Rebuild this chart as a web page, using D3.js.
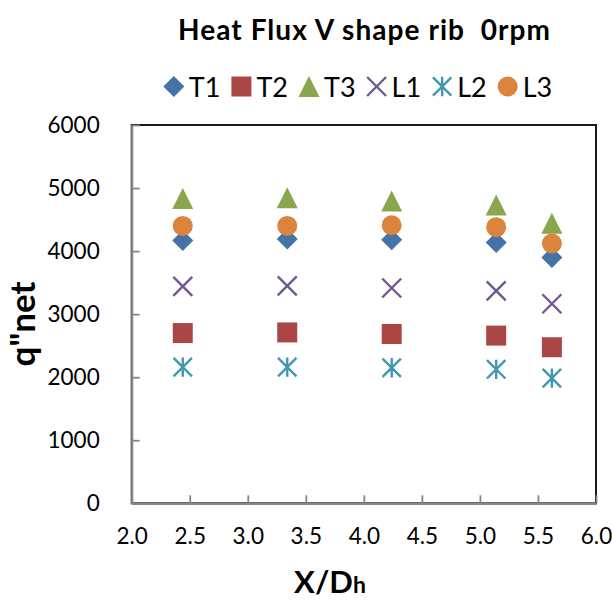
<!DOCTYPE html>
<html>
<head>
<meta charset="utf-8">
<script src="https://cdn.jsdelivr.net/npm/d3@7"></script>
<style>
  html, body { margin: 0; padding: 0; background: #fff; }
  svg { display: block; font-family: Lato, "Open Sans", sans-serif; }
</style>
</head>
<body>
<svg id="chart" width="612" height="608"></svg>
<script>
// Streamwise positions (X/Dh) of the measurement stations
const xPositions = [2.44, 3.34, 4.24, 5.14, 5.62];

// Net heat flux q"net at each station, one array per thermocouple
const seriesNames = ["T1", "T2", "T3", "L1", "L2", "L3"];
const T1 = [4170, 4190, 4180, 4135, 3900];
const T2 = [2700, 2710, 2685, 2660, 2475];
const T3 = [4835, 4845, 4795, 4730, 4440];
const L1 = [3440, 3450, 3415, 3370, 3165];
const L2 = [2160, 2160, 2150, 2125, 1985];
const L3 = [4400, 4400, 4410, 4380, 4120];

const xTicks = [2.0, 2.5, 3.0, 3.5, 4.0, 4.5, 5.0, 5.5, 6.0];
const yTicks = [0, 1000, 2000, 3000, 4000, 5000, 6000];

const titleText = "Heat Flux V shape rib  0rpm";

const values = { T1, T2, T3, L1, L2, L3 };

// marker shapes (Excel-like)
const diamond = { draw(c, s) { const r = s; c.moveTo(0, -r); c.lineTo(r, 0); c.lineTo(0, r); c.lineTo(-r, 0); c.closePath(); } };
const square = { draw(c, s) { c.rect(-s, -s, 2 * s, 2 * s); } };
const triangle = { draw(c, s) { c.moveTo(0, -s); c.lineTo(s, s); c.lineTo(-s, s); c.closePath(); } };
const cross = { draw(c, s) { c.moveTo(-s, -s); c.lineTo(s, s); c.moveTo(s, -s); c.lineTo(-s, s); } };
const star = { draw(c, s) { c.moveTo(-s, -s); c.lineTo(s, s); c.moveTo(s, -s); c.lineTo(-s, s); c.moveTo(0, -s * 1.05); c.lineTo(0, s * 1.05); } };
const circle = { draw(c, s) { c.moveTo(s, 0); c.arc(0, 0, s, 0, 2 * Math.PI); } };

const styles = {
  T1: { type: diamond, size: 10.5, fill: "#4572A7", stroke: "none" },
  T2: { type: square, size: 10, fill: "#AA4643", stroke: "none" },
  T3: { type: triangle, size: 10.5, fill: "#89A54E", stroke: "none" },
  L1: { type: cross, size: 9.5, fill: "none", stroke: "#71588F" },
  L2: { type: star, size: 9.2, fill: "none", stroke: "#4198AF" },
  L3: { type: circle, size: 10, fill: "#DB843D", stroke: "none" }
};

const svg = d3.select("#chart");
const plot = { left: 131.7, right: 596, top: 125, bottom: 503.3 };

const x = d3.scaleLinear().domain([2, 6]).range([plot.left, plot.right]);
const y = d3.scaleLinear().domain([0, 6000]).range([plot.bottom, plot.top]);

// plot-area frame (top and right edges)
svg.append("rect")
  .attr("x", plot.left).attr("y", plot.top)
  .attr("width", plot.right - plot.left).attr("height", plot.bottom - plot.top)
  .attr("fill", "none").attr("stroke", "#1a1a1a").attr("stroke-width", 2);

// axes with inward ticks
const xAxis = svg.append("g")
  .attr("transform", `translate(0,${plot.bottom})`)
  .call(d3.axisBottom(x).tickValues(xTicks).tickFormat(d3.format(".1f"))
    .tickSizeInner(-8).tickSizeOuter(0).tickPadding(25));
const yAxis = svg.append("g")
  .attr("transform", `translate(${plot.left},0)`)
  .call(d3.axisLeft(y).tickValues(yTicks).tickFormat(d3.format("d"))
    .tickSizeInner(-8).tickSizeOuter(0).tickPadding(32));

[xAxis, yAxis].forEach(g => {
  g.select(".domain").attr("stroke", "#868686").attr("stroke-width", 2.2);
  g.selectAll(".tick line").attr("stroke", "#868686").attr("stroke-width", 1.8);
  g.selectAll(".tick text").attr("fill", "#000").style("font-size", "22.5px")
    .style("font-family", "Lato, sans-serif");
});

// data markers
seriesNames.forEach(name => {
  const st = styles[name];
  const sym = d3.symbol().type(st.type).size(st.size);
  svg.append("g").attr("class", "series-" + name)
    .selectAll("path")
    .data(values[name].map((v, i) => ({ x: xPositions[i], v })))
    .join("path")
    .attr("transform", d => `translate(${x(d.x)},${y(d.v)})`)
    .attr("d", sym)
    .attr("fill", st.fill)
    .attr("stroke", st.stroke)
    .attr("stroke-width", st.stroke === "none" ? 0 : 2.4);
});

// title
svg.append("text")
  .attr("x", 364).attr("y", 39.5)
  .attr("text-anchor", "middle")
  .attr("textLength", 372).attr("lengthAdjust", "spacing")
  .style("font-weight", "bold").style("font-size", "28px")
  .style("white-space", "pre")
  .text(titleText);

// legend
const legend = svg.append("g");
let cursor = 0;
const items = [];
seriesNames.forEach(name => {
  const g = legend.append("g");
  const st = styles[name];
  g.append("path")
    .attr("d", d3.symbol().type(st.type).size(st.size)())
    .attr("fill", st.fill).attr("stroke", st.stroke)
    .attr("stroke-width", st.stroke === "none" ? 0 : 2.4);
  const t = g.append("text").attr("x", 15).attr("y", 10)
    .style("font-size", "27px").text(name);
  const w = t.node().getComputedTextLength();
  items.push({ g, offset: cursor });
  cursor += 15 + w + 21;
});
const legendWidth = cursor - 21 + 10;
const legendStart = 358 - legendWidth / 2 + 10;
items.forEach(it => it.g.attr("transform", `translate(${legendStart + it.offset},86.5)`));

// axis titles
const xt = svg.append("text")
  .attr("x", 330).attr("y", 593)
  .attr("text-anchor", "middle")
  .style("font-weight", "bold").style("font-size", "31px");
xt.append("tspan").text("X/D");
xt.append("tspan").style("font-size", "23px").text("h");

svg.append("text")
  .attr("transform", "translate(35,324) rotate(-90)")
  .attr("text-anchor", "middle")
  .style("font-weight", "bold").style("font-size", "35px")
  .text('q"net');
</script>
</body>
</html>
